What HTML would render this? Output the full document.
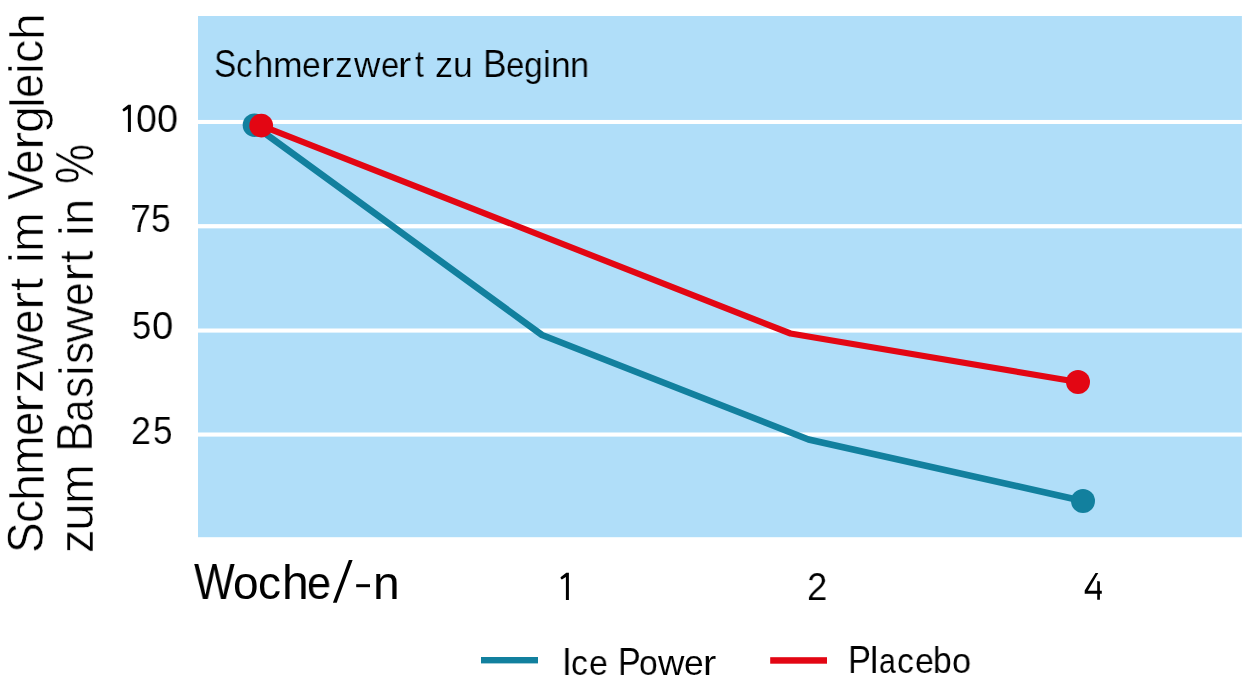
<!DOCTYPE html>
<html><head><meta charset="utf-8">
<style>
html,body{margin:0;padding:0;background:#fff;width:1243px;height:686px;overflow:hidden;position:relative}
.t{position:absolute;font-family:"Liberation Sans",sans-serif;color:#000;white-space:nowrap;line-height:1;transform-origin:0 0;will-change:transform}
svg{position:absolute;left:0;top:0}
</style></head><body>
<svg width="1243" height="686" viewBox="0 0 1243 686">
<rect x="198" y="16" width="1043.9" height="521.2" fill="#B0DEF9"/>
<rect x="198" y="119.95" width="1043.9" height="4.05" fill="#fff"/>
<rect x="198" y="224.1" width="1043.9" height="4.25" fill="#fff"/>
<rect x="198" y="328.5" width="1043.9" height="4.1" fill="#fff"/>
<rect x="198" y="432.5" width="1043.9" height="4.1" fill="#fff"/>
<polyline points="254.5,125.7 542,335 808.5,439.5 1083,501" fill="none" stroke="#12809E" stroke-width="6.6" stroke-linejoin="round"/>
<circle cx="254.5" cy="125.2" r="11.8" fill="#12809E"/>
<circle cx="1083" cy="501" r="12" fill="#12809E"/>
<polyline points="261.2,125.6 790.5,333.5 1078,382" fill="none" stroke="#E30613" stroke-width="6.2" stroke-linejoin="round"/>
<circle cx="261.2" cy="125.6" r="11.9" fill="#E30613"/>
<circle cx="1078" cy="382" r="12" fill="#E30613"/>
<rect x="481" y="657" width="57" height="6.4" fill="#12809E"/>
<rect x="770.2" y="657.2" width="56.8" height="6.5" fill="#E30613"/>
<path d="M565.9,599.9 L565.9,576.9 L561.9,579.6 Q560.6,578.9 560.5,577.3 L566.3,572.8 L568.9,572.8 L568.9,599.9 Z" fill="#000"/>
<path transform="translate(-438,-468)" d="M565.9,599.9 L565.9,576.9 L561.9,579.6 Q560.6,578.9 560.5,577.3 L566.3,572.8 L568.9,572.8 L568.9,599.9 Z" fill="#000"/>
<polygon points="332.9,602.7 336.7,602.7 352.6,560 348.9,560" fill="#000"/>
<rect x="356.2" y="584.2" width="13.8" height="3" fill="#000"/>
<path d="M1095.5,573.1 L1098.3,573.1 L1087.8,590.8 L1097.2,590.8 L1097.2,581.1 L1099.9,581.4 L1099.9,590.8 L1101.8,590.8 L1101.8,593.7 L1099.9,593.7 L1099.9,599.8 L1097.2,599.8 L1097.2,593.7 L1084.7,593.7 L1084.7,590.6 Z" fill="#000"/>
<rect x="132.3" y="205" width="2.6" height="4.7" fill="#000"/>
</svg>

<div class="t" style="left:135.50px;top:99.01px;font-size:39px;transform:scale(0.9609,1.0000);-webkit-text-stroke:0.1px #fff">0</div>
<div class="t" style="left:157.49px;top:99.01px;font-size:39px;transform:scale(0.9663,1.0000);-webkit-text-stroke:0.1px #fff">0</div>
<div class="t" style="left:130.54px;top:199.01px;font-size:39px;transform:scale(0.9117,1.0000);-webkit-text-stroke:0.1px #fff">7</div>
<div class="t" style="left:150.80px;top:199.01px;font-size:39px;transform:scale(0.9098,1.0000);-webkit-text-stroke:0.1px #fff">5</div>
<div class="t" style="left:131.95px;top:306.01px;font-size:39px;transform:scale(0.8823,1.0000);-webkit-text-stroke:0.1px #fff">5</div>
<div class="t" style="left:152.48px;top:306.01px;font-size:39px;transform:scale(0.9771,1.0000);-webkit-text-stroke:0.1px #fff">0</div>
<div class="t" style="left:131.31px;top:411.01px;font-size:39px;transform:scale(0.9186,1.0000);-webkit-text-stroke:0.1px #fff">2</div>
<div class="t" style="left:152.92px;top:411.01px;font-size:39px;transform:scale(0.8988,1.0000);-webkit-text-stroke:0.1px #fff">5</div>
<div class="t" style="left:213.83px;top:44.01px;font-size:39px;transform:scale(0.8547,1.0000);-webkit-text-stroke:0.2px #B0DEF9">S</div>
<div class="t" style="left:235.92px;top:48.01px;font-size:35.5px;transform:scale(0.9279,1.0000);-webkit-text-stroke:0.2px #B0DEF9">c</div>
<div class="t" style="left:253.90px;top:46.01px;font-size:37.1px;transform:scale(0.9241,1.0000);-webkit-text-stroke:0.2px #B0DEF9">h</div>
<div class="t" style="left:272.71px;top:48.01px;font-size:35.5px;transform:scale(1.0011,1.0000);-webkit-text-stroke:0.2px #B0DEF9">m</div>
<div class="t" style="left:302.48px;top:48.01px;font-size:35.5px;transform:scale(0.9511,1.0000);-webkit-text-stroke:0.2px #B0DEF9">e</div>
<div class="t" style="left:320.70px;top:48.01px;font-size:35.5px;transform:scale(1.1200,1.0000);-webkit-text-stroke:0.2px #B0DEF9">r</div>
<div class="t" style="left:335.00px;top:48.01px;font-size:35.5px;transform:scale(1.0000,1.0000);-webkit-text-stroke:0.2px #B0DEF9">z</div>
<div class="t" style="left:353.72px;top:48.01px;font-size:35.5px;transform:scale(1.0283,1.0000);-webkit-text-stroke:0.2px #B0DEF9">w</div>
<div class="t" style="left:381.03px;top:48.01px;font-size:35.5px;transform:scale(0.9208,1.0000);-webkit-text-stroke:0.2px #B0DEF9">e</div>
<div class="t" style="left:398.40px;top:48.01px;font-size:35.5px;transform:scale(1.1200,1.0000);-webkit-text-stroke:0.2px #B0DEF9">r</div>
<div class="t" style="left:415.46px;top:47.01px;font-size:36px;transform:scale(0.8957,1.0000);-webkit-text-stroke:0.2px #B0DEF9">t</div>
<div class="t" style="left:434.97px;top:48.01px;font-size:35.5px;transform:scale(1.0211,1.0000);-webkit-text-stroke:0.2px #B0DEF9">z</div>
<div class="t" style="left:453.05px;top:48.01px;font-size:35.5px;transform:scale(0.9842,1.0000);-webkit-text-stroke:0.2px #B0DEF9">u</div>
<div class="t" style="left:482.89px;top:44.01px;font-size:39px;transform:scale(0.9084,1.0000);-webkit-text-stroke:0.2px #B0DEF9">B</div>
<div class="t" style="left:505.82px;top:48.01px;font-size:35.5px;transform:scale(0.9269,1.0000);-webkit-text-stroke:0.2px #B0DEF9">e</div>
<div class="t" style="left:524.28px;top:48.01px;font-size:35.5px;transform:scale(0.9495,1.0000);-webkit-text-stroke:0.2px #B0DEF9">g</div>
<div class="t" style="left:543.05px;top:46.01px;font-size:37.1px;transform:scale(0.9434,1.0000);-webkit-text-stroke:0.2px #B0DEF9">i</div>
<div class="t" style="left:550.73px;top:48.01px;font-size:35.5px;transform:scale(0.9926,1.0000);-webkit-text-stroke:0.2px #B0DEF9">n</div>
<div class="t" style="left:570.10px;top:48.01px;font-size:35.5px;transform:scale(0.9658,1.0000);-webkit-text-stroke:0.2px #B0DEF9">n</div>
<div class="t" style="left:193.99px;top:557.01px;font-size:50.7px;transform:scale(0.8500,1.0000);-webkit-text-stroke:0.0px #fff">W</div>
<div class="t" style="left:232.99px;top:560.01px;font-size:46px;transform:scale(0.9840,1.0000);-webkit-text-stroke:0.0px #fff">o</div>
<div class="t" style="left:257.97px;top:560.01px;font-size:46px;transform:scale(0.9808,1.0000);-webkit-text-stroke:0.0px #fff">c</div>
<div class="t" style="left:281.65px;top:559.01px;font-size:48px;transform:scale(0.9970,1.0000);-webkit-text-stroke:0.0px #fff">h</div>
<div class="t" style="left:306.95px;top:560.01px;font-size:46px;transform:scale(0.9397,1.0000);-webkit-text-stroke:0.0px #fff">e</div>
<div class="t" style="left:372.68px;top:560.01px;font-size:46.5px;transform:scale(1.0323,1.0000);-webkit-text-stroke:0.0px #fff">n</div>
<div class="t" style="left:807.28px;top:567.01px;font-size:39px;transform:scale(0.9355,1.0000);-webkit-text-stroke:0.1px #fff">2</div>
<div class="t" style="left:561.54px;top:642.01px;font-size:39.4px;transform:scale(0.9000,1.0000);-webkit-text-stroke:0.05px #fff">I</div>
<div class="t" style="left:570.59px;top:646.01px;font-size:35.5px;transform:scale(0.9478,1.0000);-webkit-text-stroke:0.05px #fff">c</div>
<div class="t" style="left:588.67px;top:646.01px;font-size:35.5px;transform:scale(0.9571,1.0000);-webkit-text-stroke:0.05px #fff">e</div>
<div class="t" style="left:618.11px;top:642.01px;font-size:39.4px;transform:scale(0.8620,1.0000);-webkit-text-stroke:0.05px #fff">P</div>
<div class="t" style="left:638.79px;top:646.01px;font-size:35.5px;transform:scale(0.9470,1.0000);-webkit-text-stroke:0.05px #fff">o</div>
<div class="t" style="left:658.00px;top:646.01px;font-size:35.5px;transform:scale(1.0290,1.0000);-webkit-text-stroke:0.05px #fff">w</div>
<div class="t" style="left:684.44px;top:646.01px;font-size:35.5px;transform:scale(0.9753,1.0000);-webkit-text-stroke:0.05px #fff">e</div>
<div class="t" style="left:702.75px;top:646.01px;font-size:35.5px;transform:scale(1.1200,1.0000);-webkit-text-stroke:0.05px #fff">r</div>
<div class="t" style="left:847.98px;top:640.01px;font-size:39.4px;transform:scale(0.8716,1.0000);-webkit-text-stroke:0.05px #fff">P</div>
<div class="t" style="left:870.28px;top:642.01px;font-size:37.5px;transform:scale(1.0000,1.0000);-webkit-text-stroke:0.05px #fff">l</div>
<div class="t" style="left:878.70px;top:644.01px;font-size:35.5px;transform:scale(0.8500,1.0000);-webkit-text-stroke:0.05px #fff">a</div>
<div class="t" style="left:896.59px;top:644.01px;font-size:35.5px;transform:scale(0.9478,1.0000);-webkit-text-stroke:0.05px #fff">c</div>
<div class="t" style="left:914.57px;top:644.01px;font-size:35.5px;transform:scale(0.9571,1.0000);-webkit-text-stroke:0.05px #fff">e</div>
<div class="t" style="left:932.92px;top:642.01px;font-size:37.5px;transform:scale(0.8948,1.0000);-webkit-text-stroke:0.05px #fff">b</div>
<div class="t" style="left:951.56px;top:644.01px;font-size:35.5px;transform:scale(0.9649,1.0000);-webkit-text-stroke:0.05px #fff">o</div>
<div class="t" style="left:0.66px;top:553.22px;font-size:50.7px;transform:rotate(-90deg) scale(0.9052,1);-webkit-text-stroke:0.6px #fff">S</div>
<div class="t" style="left:3.36px;top:523.21px;font-size:47.5px;transform:rotate(-90deg) scale(0.9740,1);-webkit-text-stroke:0.6px #fff">c</div>
<div class="t" style="left:2.69px;top:500.66px;font-size:48.3px;transform:rotate(-90deg) scale(1.0099,1);-webkit-text-stroke:0.6px #fff">h</div>
<div class="t" style="left:3.36px;top:475.38px;font-size:47.5px;transform:rotate(-90deg) scale(1.0050,1);-webkit-text-stroke:0.6px #fff">m</div>
<div class="t" style="left:3.36px;top:435.98px;font-size:47.5px;transform:rotate(-90deg) scale(0.9161,1);-webkit-text-stroke:0.6px #fff">e</div>
<div class="t" style="left:3.36px;top:412.54px;font-size:47.5px;transform:rotate(-90deg) scale(1.1500,1);-webkit-text-stroke:0.6px #fff">r</div>
<div class="t" style="left:3.36px;top:393.37px;font-size:47.5px;transform:rotate(-90deg) scale(1.0158,1);-webkit-text-stroke:0.6px #fff">z</div>
<div class="t" style="left:3.36px;top:369.50px;font-size:47.5px;transform:rotate(-90deg) scale(1.0631,1);-webkit-text-stroke:0.6px #fff">w</div>
<div class="t" style="left:3.36px;top:333.89px;font-size:47.5px;transform:rotate(-90deg) scale(0.9208,1);-webkit-text-stroke:0.6px #fff">e</div>
<div class="t" style="left:3.36px;top:310.02px;font-size:47.5px;transform:rotate(-90deg) scale(1.1500,1);-webkit-text-stroke:0.6px #fff">r</div>
<div class="t" style="left:3.36px;top:290.65px;font-size:47.5px;transform:rotate(-90deg) scale(0.9968,1);-webkit-text-stroke:0.6px #fff">t</div>
<div class="t" style="left:3.36px;top:262.54px;font-size:47.5px;transform:rotate(-90deg) scale(1.0000,1);-webkit-text-stroke:0.6px #fff">i</div>
<div class="t" style="left:3.36px;top:252.34px;font-size:47.5px;transform:rotate(-90deg) scale(1.0065,1);-webkit-text-stroke:0.6px #fff">m</div>
<div class="t" style="left:0.66px;top:199.76px;font-size:50.7px;transform:rotate(-90deg) scale(0.8697,1);-webkit-text-stroke:0.6px #fff">V</div>
<div class="t" style="left:3.36px;top:173.89px;font-size:47.5px;transform:rotate(-90deg) scale(0.9208,1);-webkit-text-stroke:0.6px #fff">e</div>
<div class="t" style="left:3.36px;top:150.32px;font-size:47.5px;transform:rotate(-90deg) scale(1.1500,1);-webkit-text-stroke:0.6px #fff">r</div>
<div class="t" style="left:3.36px;top:133.22px;font-size:47.5px;transform:rotate(-90deg) scale(1.0188,1);-webkit-text-stroke:0.6px #fff">g</div>
<div class="t" style="left:2.69px;top:108.18px;font-size:48.3px;transform:rotate(-90deg) scale(1.0000,1);-webkit-text-stroke:0.6px #fff">l</div>
<div class="t" style="left:3.36px;top:97.93px;font-size:47.5px;transform:rotate(-90deg) scale(0.9184,1);-webkit-text-stroke:0.6px #fff">e</div>
<div class="t" style="left:3.36px;top:73.99px;font-size:47.5px;transform:rotate(-90deg) scale(1.0000,1);-webkit-text-stroke:0.6px #fff">i</div>
<div class="t" style="left:3.36px;top:63.07px;font-size:47.5px;transform:rotate(-90deg) scale(0.9765,1);-webkit-text-stroke:0.6px #fff">c</div>
<div class="t" style="left:2.69px;top:40.42px;font-size:48.3px;transform:rotate(-90deg) scale(0.9998,1);-webkit-text-stroke:0.6px #fff">h</div>
<div class="t" style="left:53.06px;top:552.80px;font-size:47.5px;transform:rotate(-90deg) scale(0.9842,1);-webkit-text-stroke:0.6px #fff">z</div>
<div class="t" style="left:53.06px;top:530.78px;font-size:47.5px;transform:rotate(-90deg) scale(1.0475,1);-webkit-text-stroke:0.6px #fff">u</div>
<div class="t" style="left:53.06px;top:504.09px;font-size:47.5px;transform:rotate(-90deg) scale(1.0081,1);-webkit-text-stroke:0.6px #fff">m</div>
<div class="t" style="left:50.36px;top:451.94px;font-size:50.7px;transform:rotate(-90deg) scale(0.9065,1);-webkit-text-stroke:0.6px #fff">B</div>
<div class="t" style="left:53.06px;top:422.21px;font-size:47.5px;transform:rotate(-90deg) scale(0.8500,1);-webkit-text-stroke:0.6px #fff">a</div>
<div class="t" style="left:53.06px;top:397.58px;font-size:47.5px;transform:rotate(-90deg) scale(0.8922,1);-webkit-text-stroke:0.6px #fff">s</div>
<div class="t" style="left:53.06px;top:375.79px;font-size:47.5px;transform:rotate(-90deg) scale(1.0000,1);-webkit-text-stroke:0.6px #fff">i</div>
<div class="t" style="left:53.06px;top:364.16px;font-size:47.5px;transform:rotate(-90deg) scale(0.9373,1);-webkit-text-stroke:0.6px #fff">s</div>
<div class="t" style="left:53.06px;top:342.71px;font-size:47.5px;transform:rotate(-90deg) scale(1.0840,1);-webkit-text-stroke:0.6px #fff">w</div>
<div class="t" style="left:53.06px;top:305.72px;font-size:47.5px;transform:rotate(-90deg) scale(0.8930,1);-webkit-text-stroke:0.6px #fff">e</div>
<div class="t" style="left:53.06px;top:282.02px;font-size:47.5px;transform:rotate(-90deg) scale(1.1500,1);-webkit-text-stroke:0.6px #fff">r</div>
<div class="t" style="left:53.06px;top:263.11px;font-size:47.5px;transform:rotate(-90deg) scale(0.9538,1);-webkit-text-stroke:0.6px #fff">t</div>
<div class="t" style="left:53.06px;top:235.64px;font-size:47.5px;transform:rotate(-90deg) scale(1.0000,1);-webkit-text-stroke:0.6px #fff">i</div>
<div class="t" style="left:53.06px;top:224.83px;font-size:47.5px;transform:rotate(-90deg) scale(0.9910,1);-webkit-text-stroke:0.6px #fff">n</div>
<div class="t" style="left:48.42px;top:184.13px;font-size:53px;transform:rotate(-90deg) scale(0.8500,1);-webkit-text-stroke:0.6px #fff">%</div>
</body></html>
